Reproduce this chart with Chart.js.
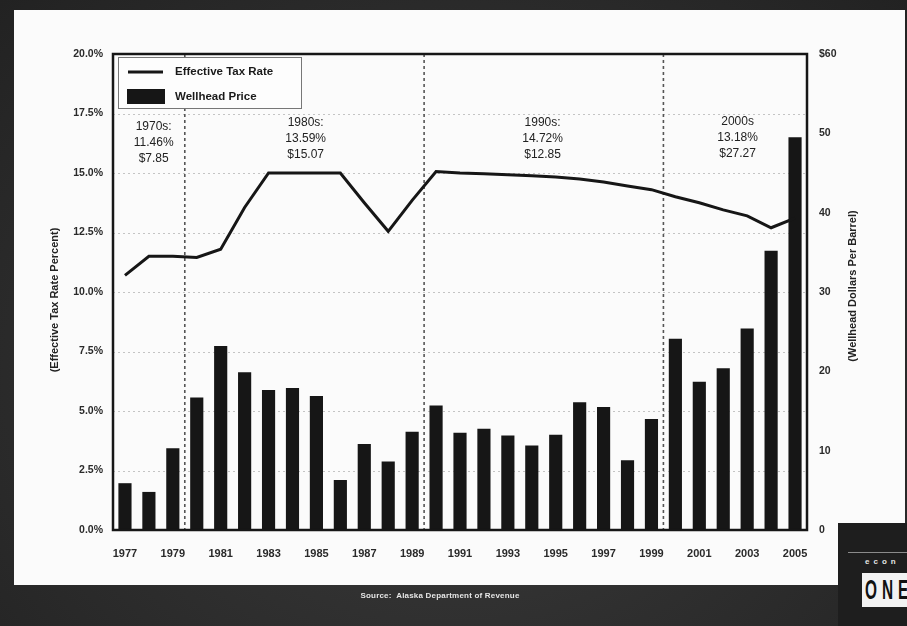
<!DOCTYPE html>
<html>
<head>
<meta charset="utf-8">
<title>Effective Tax Rate and Wellhead Price</title>
<script src="https://cdn.jsdelivr.net/npm/chart.js@4.4.1/dist/chart.umd.min.js"></script>
<style>
  html, body { margin: 0; padding: 0; width: 907px; height: 626px; overflow: hidden; }
  body {
    position: relative;
    background: radial-gradient(ellipse at 50% 60%, #3c3c3c 0%, #2a2a2a 70%, #222 100%);
    font-family: "Liberation Sans", Arial, sans-serif;
  }
  #slide { position: absolute; left: 14px; top: 10px; width: 891px; height: 575px; background: #fbfbfb; }
  #chart { position: absolute; left: 0; top: 0; }
  #source {
    position: absolute; left: 0; top: 591px; width: 880px; text-align: center;
    color: #e6e6e6; font: bold 8px "Liberation Sans", Arial, sans-serif; letter-spacing: 0.2px;
  }
  #logo { position: absolute; left: 838px; top: 523px; width: 69px; height: 103px; background: #1e1e1e; overflow: hidden; }
  #logo .rule { position: absolute; left: 10px; right: 0; top: 29px; height: 1px; background: #8a8a8a; }
  #logo .econ {
    position: absolute; left: 27px; top: 34px; color: #e4e4e4;
    font: bold 8px "Liberation Sans", Arial, sans-serif; letter-spacing: 4px;
  }
  #logo .one {
    position: absolute; left: 24px; top: 50px; width: 48px; height: 34px; background: #f2f2f2;
    overflow: hidden;
  }
  #logo .one span {
    position: absolute; left: 3px; top: 2px; display: block; white-space: nowrap;
    color: #111; font: bold 28px "Liberation Sans", Arial, sans-serif; line-height: 30px;
    letter-spacing: 9px; transform: scaleX(0.55); transform-origin: 0 0;
  }
</style>
</head>
<body>
<div id="slide"></div>
<canvas id="chart" width="907" height="626"></canvas>
<div id="source">Source:&nbsp; Alaska Department of Revenue</div>
<div id="logo"><div class="rule"></div><div class="econ">econ</div><div class="one"><span>ONE</span></div></div>

<script>
// Fiscal years shown on the category axis
const years = ['1977','1978','1979','1980','1981','1982','1983','1984','1985','1986',
               '1987','1988','1989','1990','1991','1992','1993','1994','1995','1996',
               '1997','1998','1999','2000','2001','2002','2003','2004','2005'];

// Effective production tax rate (percent, left axis)
const taxRate = [10.7, 11.5, 11.5, 11.45, 11.8, 13.55, 15.0, 15.0, 15.0, 15.0,
                 13.75, 12.55, 13.85, 15.06, 15.0, 14.97, 14.93, 14.88, 14.83, 14.75,
                 14.62, 14.45, 14.3, 14.0, 13.75, 13.45, 13.2, 12.7, 13.1];

// Wellhead price, dollars per barrel (right axis)
const wellheadPrice = [5.9, 4.8, 10.3, 16.7, 23.2, 19.9, 17.65, 17.9, 16.9, 6.3,
                       10.85, 8.65, 12.4, 15.7, 12.25, 12.75, 11.9, 10.65, 12.0, 16.1,
                       15.5, 8.8, 14.0, 24.1, 18.7, 20.4, 25.4, 35.2, 49.5];

// Decade summaries: name, average rate, average price
const decadeNames  = ['1970s:', '1980s:', '1990s:', '2000s'];
const decadeRates  = ['11.46%', '13.59%', '14.72%', '13.18%'];
const decadePrices = ['$7.85', '$15.07', '$12.85', '$27.27'];
// First year of each decade that starts inside the range (dotted dividers)
const decadeStarts = ['1980', '1990', '2000'];

// Axis ticks
const rateTicks  = [0, 2.5, 5, 7.5, 10, 12.5, 15, 17.5, 20];
const priceTicks = [0, 10, 20, 30, 40, 50, 60];

const INK = '#161616';
const TICK_FONT = { family: '"Liberation Sans", Arial, sans-serif', size: 10.5, weight: 'bold' };

// Faint dotted grid, decade dividers, frame, legend, decade notes and axis titles
const decor = {
  id: 'decor',
  beforeDatasetsDraw(chart) {
    const { ctx, chartArea: a, scales } = chart;
    const y = scales.y, x = scales.x;
    ctx.save();
    ctx.strokeStyle = '#c4c4c4';
    ctx.lineWidth = 1;
    ctx.setLineDash([2, 3]);
    rateTicks.forEach(v => {
      if (v <= 0 || v >= 20) return;
      const py = Math.round(y.getPixelForValue(v)) + 0.5;
      ctx.beginPath(); ctx.moveTo(a.left, py); ctx.lineTo(a.right, py); ctx.stroke();
    });
    ctx.strokeStyle = '#555';
    ctx.lineWidth = 1.6;
    ctx.setLineDash([3, 3]);
    decadeStarts.forEach(yr => {
      const i = years.indexOf(yr);
      const px = (x.getPixelForValue(i - 1) + x.getPixelForValue(i)) / 2;
      ctx.beginPath(); ctx.moveTo(px, a.top); ctx.lineTo(px, a.bottom); ctx.stroke();
    });
    ctx.restore();

    // decade notes, placed over the years they summarise (fractional category index)
    const centres = [1.2, 7.55, 17.45, 25.6];
    const offs = [73, 69, 69, 68];
    const step = x.getPixelForValue(1) - x.getPixelForValue(0);
    ctx.save();
    ctx.fillStyle = '#222';
    ctx.font = '12px "Liberation Sans", Arial, sans-serif';
    ctx.textAlign = 'center';
    ctx.textBaseline = 'middle';
    decadeNames.forEach((n, k) => {
      const cx = x.getPixelForValue(0) + centres[k] * step;
      const ty = a.top + offs[k];
      ctx.fillText(n, cx, ty);
      ctx.fillText(decadeRates[k], cx, ty + 16);
      ctx.fillText(decadePrices[k], cx, ty + 32);
    });
    ctx.restore();
  },
  afterDatasetsDraw(chart) {
    const { ctx, chartArea: a } = chart;
    ctx.save();
    ctx.strokeStyle = INK;
    ctx.lineWidth = 2.5;
    ctx.strokeRect(a.left, a.top, a.right - a.left, a.bottom - a.top);

    // legend box in the upper-left corner of the plot
    const lx = a.left + 5, ly = a.top + 3, lw = 183, lh = 51;
    ctx.fillStyle = '#fdfdfd';
    ctx.fillRect(lx, ly, lw, lh);
    ctx.strokeStyle = '#777';
    ctx.lineWidth = 1;
    ctx.strokeRect(lx + 0.5, ly + 0.5, lw, lh);
    const ds = chart.data.datasets;
    ctx.strokeStyle = ds[0].borderColor;
    ctx.lineWidth = 3;
    ctx.beginPath(); ctx.moveTo(lx + 10, ly + 15); ctx.lineTo(lx + 45, ly + 15); ctx.stroke();
    ctx.fillStyle = ds[1].backgroundColor;
    ctx.fillRect(lx + 9, ly + 32, 38, 15);
    ctx.fillStyle = '#1a1a1a';
    ctx.font = 'bold 11.5px "Liberation Sans", Arial, sans-serif';
    ctx.textBaseline = 'middle';
    ctx.fillText(ds[0].label, lx + 57, ly + 15);
    ctx.fillText(ds[1].label, lx + 57, ly + 40);
    ctx.restore();
  },
  afterDraw(chart) {
    const { ctx, chartArea: a } = chart;
    const mid = (a.top + a.bottom) / 2;
    const title = (text, tx, ty) => {
      ctx.save();
      ctx.fillStyle = '#222';
      ctx.font = 'bold 11px "Liberation Sans", Arial, sans-serif';
      ctx.textAlign = 'center';
      ctx.textBaseline = 'middle';
      ctx.translate(tx, ty);
      ctx.rotate(-Math.PI / 2);
      ctx.fillText(text, 0, 0);
      ctx.restore();
    };
    title('(Effective Tax Rate Percent)', a.left - 58, mid + 8);
    title('(Wellhead Dollars Per Barrel)', a.right + 46, mid - 6);
  }
};

new Chart(document.getElementById('chart'), {
  data: {
    labels: years,
    datasets: [
      {
        type: 'line', label: 'Effective Tax Rate', data: taxRate, yAxisID: 'y',
        borderColor: INK, borderWidth: 3, pointRadius: 0, tension: 0, order: 0
      },
      {
        type: 'bar', label: 'Wellhead Price', data: wellheadPrice, yAxisID: 'y1',
        backgroundColor: INK, borderWidth: 0, barPercentage: 0.55, categoryPercentage: 1, order: 1
      }
    ]
  },
  options: {
    responsive: false,
    animation: false,
    devicePixelRatio: 1,
    layout: { padding: { top: 54, left: 0, right: 0, bottom: 0 } },
    plugins: { legend: { display: false }, tooltip: { enabled: false } },
    scales: {
      x: {
        type: 'category', offset: true,
        grid: { display: false, drawTicks: false },
        border: { display: false },
        ticks: {
          autoSkip: false, maxRotation: 0, minRotation: 0, padding: 17,
          color: '#2a2a2a', font: { family: '"Liberation Sans", Arial, sans-serif', size: 11, weight: 'bold' },
          callback: (v, i) => (i % 2 === 0 ? years[i] : '')
        },
        afterFit: s => { s.height = 96; }
      },
      y: {
        position: 'left', min: 0, max: 20,
        afterBuildTicks: s => { s.ticks = rateTicks.map(v => ({ value: v })); },
        grid: { display: false, drawTicks: false },
        border: { display: false },
        ticks: { padding: 10, color: '#2a2a2a', font: TICK_FONT, callback: v => v.toFixed(1) + '%' },
        afterFit: s => { s.width = 113; }
      },
      y1: {
        position: 'right', min: 0, max: 60,
        afterBuildTicks: s => { s.ticks = priceTicks.map(v => ({ value: v })); },
        grid: { display: false, drawTicks: false },
        border: { display: false },
        ticks: { padding: 12, color: '#2a2a2a', font: TICK_FONT, callback: v => (v === 60 ? '$60' : String(v)) },
        afterFit: s => { s.width = 100; }
      }
    }
  },
  plugins: [decor]
});
</script>
</body>
</html>
